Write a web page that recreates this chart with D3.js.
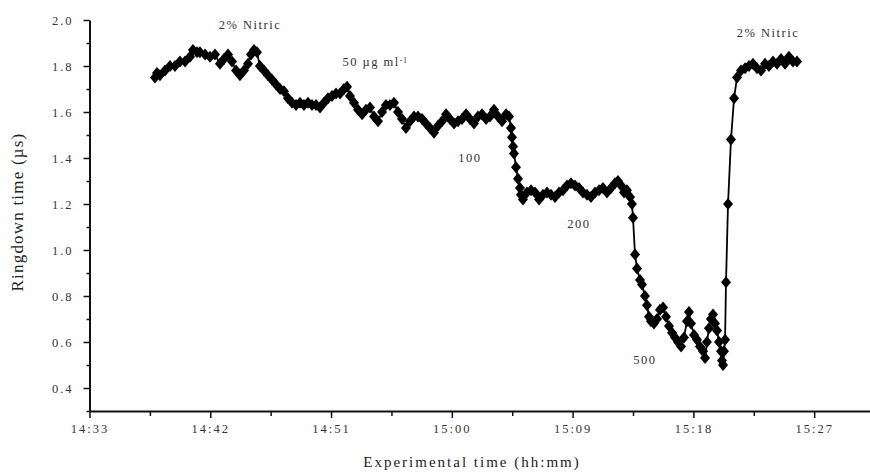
<!DOCTYPE html>
<html>
<head>
<meta charset="utf-8">
<script src="https://cdn.jsdelivr.net/npm/d3@7"></script>
<style>
  body { margin: 0; background: #fff; }
  svg { display: block; }
  .axis text { font-family: "Liberation Serif", "Times New Roman", serif; font-size: 12.5px; fill: #333; letter-spacing: 2px; }
  .axis path, .axis line { stroke: #111; }
  .title { font-family: "Liberation Serif", "Times New Roman", serif; fill: #222; }
  .note { font-family: "Liberation Serif", "Times New Roman", serif; font-size: 12.5px; fill: #333; letter-spacing: 1.5px; }
</style>
</head>
<body>
<svg id="chart" width="870" height="476"></svg>
<script>
const startTime = '14:33';
const endMinutes = 58.16;

// minutes after 14:33
const minutes = [
  4.88, 5.03, 5.25, 5.63, 6.00, 6.37, 6.74, 7.12, 7.49, 7.71, 8.01, 8.23, 8.61, 8.98, 9.35, 9.72,
  10.02, 10.32, 10.62, 10.92, 11.21, 11.51, 11.81, 12.03, 12.26, 12.48, 12.70, 13.00, 13.30, 13.60,
  13.90, 14.20, 14.49, 14.79, 15.09, 15.39, 15.69, 15.98, 16.28, 16.58, 16.88, 17.18, 17.47, 17.77,
  18.07, 18.37, 18.67, 18.96, 19.19, 19.41, 19.71, 20.01, 20.31, 20.60, 20.90, 21.20, 21.50, 21.80,
  22.09, 22.39, 22.69, 22.99, 23.29, 23.58, 23.88, 24.18, 24.48, 24.78, 25.07, 25.37, 25.67, 25.97,
  26.27, 26.57, 26.86, 27.16, 27.46, 27.76, 28.06, 28.35, 28.65, 28.95, 29.25, 29.55, 29.84, 30.14,
  30.44, 30.74, 31.04, 31.26, 31.41, 31.48, 31.56, 31.63, 31.78, 31.93, 32.08, 32.15, 32.30, 32.60,
  32.90, 33.20, 33.50, 33.79, 34.09, 34.39, 34.69, 34.99, 35.28, 35.58, 35.88, 36.18, 36.48, 36.77,
  37.07, 37.37, 37.67, 37.97, 38.26, 38.56, 38.86, 39.16, 39.38, 39.61, 39.83, 40.05, 40.28, 40.42,
  40.50, 40.65, 40.80, 41.02, 41.17, 41.39, 41.54, 41.69, 41.84, 42.06, 42.29, 42.51, 42.74, 42.96,
  43.18, 43.41, 43.63, 43.85, 44.08, 44.30, 44.52, 44.67, 44.82, 45.05, 45.27, 45.49, 45.72, 45.87,
  46.01, 46.16, 46.31, 46.46, 46.61, 46.76, 46.91, 47.06, 47.13, 47.21, 47.28, 47.36, 47.43, 47.58,
  47.80, 48.03, 48.25, 48.55, 48.85, 49.14, 49.44, 49.74, 50.04, 50.34, 50.63, 50.93, 51.23, 51.53,
  51.83, 52.12, 52.42, 52.72
];

// ringdown time, microseconds
const ringdown = [
  1.75, 1.77, 1.76, 1.78, 1.80, 1.80, 1.82, 1.82, 1.84, 1.87, 1.86, 1.86, 1.85, 1.84, 1.85, 1.81,
  1.83, 1.85, 1.82, 1.78, 1.76, 1.78, 1.81, 1.85, 1.87, 1.86, 1.80, 1.78, 1.76, 1.74,
  1.72, 1.70, 1.69, 1.66, 1.64, 1.63, 1.64, 1.63, 1.64, 1.63, 1.63, 1.62, 1.64, 1.66,
  1.67, 1.68, 1.68, 1.70, 1.71, 1.67, 1.64, 1.61, 1.59, 1.61, 1.62, 1.58, 1.56, 1.60,
  1.63, 1.63, 1.64, 1.60, 1.57, 1.53, 1.56, 1.58, 1.58, 1.57, 1.55, 1.53, 1.51, 1.54,
  1.56, 1.59, 1.57, 1.55, 1.56, 1.57, 1.59, 1.57, 1.55, 1.58, 1.59, 1.57, 1.58, 1.61,
  1.58, 1.56, 1.59, 1.58, 1.53, 1.49, 1.45, 1.42, 1.36, 1.31, 1.27, 1.24, 1.22, 1.25,
  1.26, 1.25, 1.22, 1.24, 1.25, 1.24, 1.23, 1.25, 1.26, 1.28, 1.29, 1.28, 1.27, 1.25,
  1.24, 1.23, 1.25, 1.26, 1.27, 1.25, 1.27, 1.29, 1.30, 1.28, 1.25, 1.26, 1.23, 1.20,
  1.14, 0.98, 0.92, 0.87, 0.85, 0.80, 0.76, 0.71, 0.69, 0.68, 0.70, 0.74, 0.75, 0.71,
  0.67, 0.64, 0.62, 0.60, 0.58, 0.62, 0.69, 0.73, 0.68, 0.63, 0.61, 0.58, 0.56, 0.53,
  0.60, 0.66, 0.70, 0.72, 0.68, 0.65, 0.60, 0.56, 0.52, 0.50, 0.56, 0.61, 0.86, 1.20,
  1.48, 1.66, 1.75, 1.78, 1.79, 1.80, 1.81, 1.79, 1.78, 1.81, 1.80, 1.82, 1.81, 1.83,
  1.81, 1.84, 1.82, 1.82
];

const xTickLabels = ['14:33', '14:42', '14:51', '15:00', '15:09', '15:18', '15:27'];
const yTicks = [0.4, 0.6, 0.8, 1.0, 1.2, 1.4, 1.6, 1.8, 2.0];
const yMinorTicks = [0.3, 0.5, 0.7, 0.9, 1.1, 1.3, 1.5, 1.7, 1.9];

// annotations: [minutes after start, value, text]
const notes = [
  [11.96, 1.978, '2% Nitric'],
  [36.47, 1.113, '200'],
  [28.35, 1.400, '100'],
  [41.39, 0.522, '500'],
  [50.56, 1.943, '2% Nitric']
];

const parse = d3.timeParse('%H:%M');
const t0 = parse(startTime);
const toDate = m => new Date(t0.getTime() + m * 60000);

const data = minutes.map((m, i) => ({ t: toDate(m), v: ringdown[i] }));

const svg = d3.select('#chart');

const x = d3.scaleTime()
    .domain([t0, toDate(endMinutes)])
    .range([89.5, 870]);

const y = d3.scaleLinear()
    .domain([0.3, 2.0])
    .range([411, 20]);

const xMajor = xTickLabels.map(parse);
const xMinor = xMajor.map(d => new Date(d.getTime() + 4.5 * 60000)).filter(d => d < x.domain()[1]);

// minor ticks first so the domain line sits on top
svg.append('g')
    .attr('class', 'axis')
    .attr('transform', 'translate(0,411)')
    .call(d3.axisBottom(x).tickValues(xMinor).tickSize(5).tickFormat(''))
    .call(g => g.select('.domain').remove())
    .selectAll('line').attr('stroke-width', 1.5);

svg.append('g')
    .attr('class', 'axis')
    .attr('transform', 'translate(89.5,0)')
    .call(d3.axisLeft(y).tickValues(yMinorTicks).tickSize(3).tickFormat(''))
    .call(g => g.select('.domain').remove())
    .selectAll('line').attr('stroke-width', 1.5);

const gx = svg.append('g')
    .attr('class', 'axis')
    .attr('transform', 'translate(0,411)')
    .call(d3.axisBottom(x)
        .tickValues(xMajor)
        .tickFormat(d3.timeFormat('%H:%M'))
        .tickSize(7)
        .tickSizeOuter(0)
        .tickPadding(6));
gx.select('.domain').attr('stroke-width', 2);
gx.selectAll('.tick line').attr('stroke-width', 1.5);

const gy = svg.append('g')
    .attr('class', 'axis')
    .attr('transform', 'translate(89.5,0)')
    .call(d3.axisLeft(y)
        .tickValues(yTicks)
        .tickFormat(d3.format('.1f'))
        .tickSize(6)
        .tickSizeOuter(0)
        .tickPadding(10));
gy.select('.domain').attr('stroke-width', 2);
gy.selectAll('.tick line').attr('stroke-width', 1.5);

// axis titles
svg.append('text')
    .attr('class', 'title')
    .attr('x', 472)
    .attr('y', 467)
    .attr('text-anchor', 'middle')
    .style('font-size', '15px')
    .style('letter-spacing', '2px')
    .text('Experimental time (hh:mm)');

svg.append('text')
    .attr('class', 'title')
    .attr('transform', 'translate(23,212) rotate(-90)')
    .attr('text-anchor', 'middle')
    .style('font-size', '17px')
    .style('letter-spacing', '1.2px')
    .text('Ringdown time (\u00b5s)');

// data
const line = d3.line()
    .x(d => x(d.t))
    .y(d => y(d.v));

svg.append('path')
    .datum(data)
    .attr('fill', 'none')
    .attr('stroke', '#000')
    .attr('stroke-width', 1.8)
    .attr('d', line);

svg.append('g')
    .selectAll('path')
    .data(data)
    .join('path')
    .attr('transform', d => `translate(${x(d.t)},${y(d.v)})`)
    .attr('d', 'M0,-6L5,0L0,6L-5,0Z')
    .attr('fill', '#000');

// annotations
svg.append('g')
    .selectAll('text')
    .data(notes)
    .join('text')
    .attr('class', 'note')
    .attr('x', d => x(toDate(d[0])))
    .attr('y', d => y(d[1]))
    .attr('dy', '0.35em')
    .attr('text-anchor', 'middle')
    .text(d => d[2]);

const conc = svg.append('text')
    .attr('class', 'note')
    .attr('x', x(toDate(21.27)))
    .attr('y', y(1.817))
    .attr('dy', '0.35em')
    .attr('text-anchor', 'middle');
conc.append('tspan').text('50 \u00b5g ml');
conc.append('tspan')
    .attr('dy', '-0.45em')
    .style('font-size', '8px')
    .style('letter-spacing', '0.5px')
    .text('-1');
</script>
</body>
</html>
